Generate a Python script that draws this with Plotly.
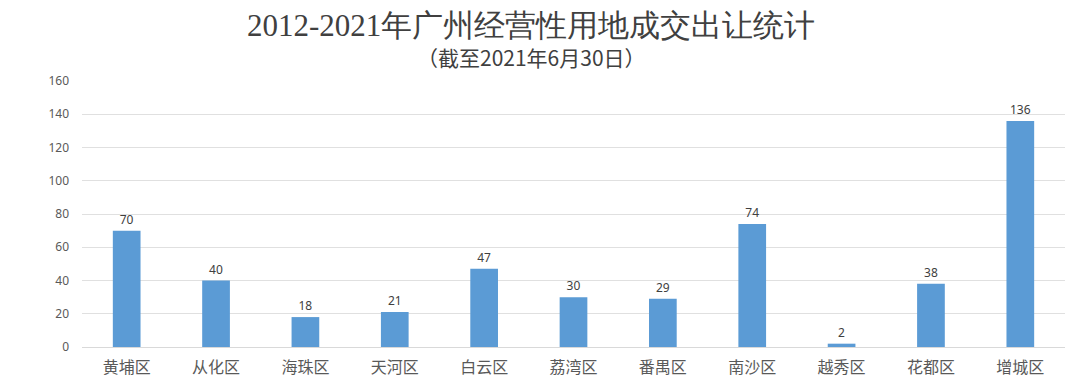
import plotly.graph_objects as go

categories = ["黄埔区", "从化区", "海珠区", "天河区", "白云区", "荔湾区", "番禺区", "南沙区", "越秀区", "花都区", "增城区"]
values = [70, 40, 18, 21, 47, 30, 29, 74, 2, 38, 136]
y_ticks = [0, 20, 40, 60, 80, 100, 120, 140, 160]

title_text = "2012-2021年广州经营性用地成交出让统计"
subtitle_text = "（截至2021年6月30日）"

fig = go.Figure()
fig.add_trace(go.Bar(
    x=categories, y=values,
    marker=dict(color="#5B9BD5", line=dict(width=0)),
    text=[str(v) for v in values], textposition="outside",
    textfont=dict(size=12, color="#404040", family="Noto Sans, sans-serif"),
    cliponaxis=False,
))

left, right, top, bottom = 82, 15, 81, 42
pw = 1080 - left - right
ph = 389 - top - bottom
cx = (531 - left) / pw

fig.update_layout(
    width=1080, height=389,
    paper_bgcolor="white", plot_bgcolor="white",
    margin=dict(l=left, r=right, t=top, b=bottom, autoexpand=False),
    bargap=0.69,
    showlegend=False,
    annotations=[
        dict(text=title_text, x=cx, y=1 + (top - 26) / ph, xref="paper", yref="paper",
             showarrow=False, yanchor="middle", xanchor="center",
             font=dict(size=31, color="#404040", family="Liberation Serif, serif")),
        dict(text=subtitle_text, x=cx, y=1 + (top - 57) / ph, xref="paper", yref="paper",
             showarrow=False, yanchor="middle", xanchor="center",
             font=dict(size=21, color="#404040", family="Noto Sans CJK SC, sans-serif")),
    ],
)

fig.update_xaxes(showline=True, linecolor="#d9d9d9", linewidth=1, ticks="", automargin=False,
                 ticklabelstandoff=6,
                 tickfont=dict(size=16, color="#595959", family="Noto Sans CJK SC, sans-serif"))
fig.update_yaxes(range=[0, 160], tickvals=y_ticks, showgrid=True, gridcolor="#e0e0e0", gridwidth=1,
                 zeroline=False, ticks="", ticklabelstandoff=12, automargin=False,
                 tickfont=dict(size=12, color="#595959", family="Noto Sans, sans-serif"))

fig.write_html("out.html", config={"displayModeBar": False},
               post_script="document.body.style.margin='0';")
